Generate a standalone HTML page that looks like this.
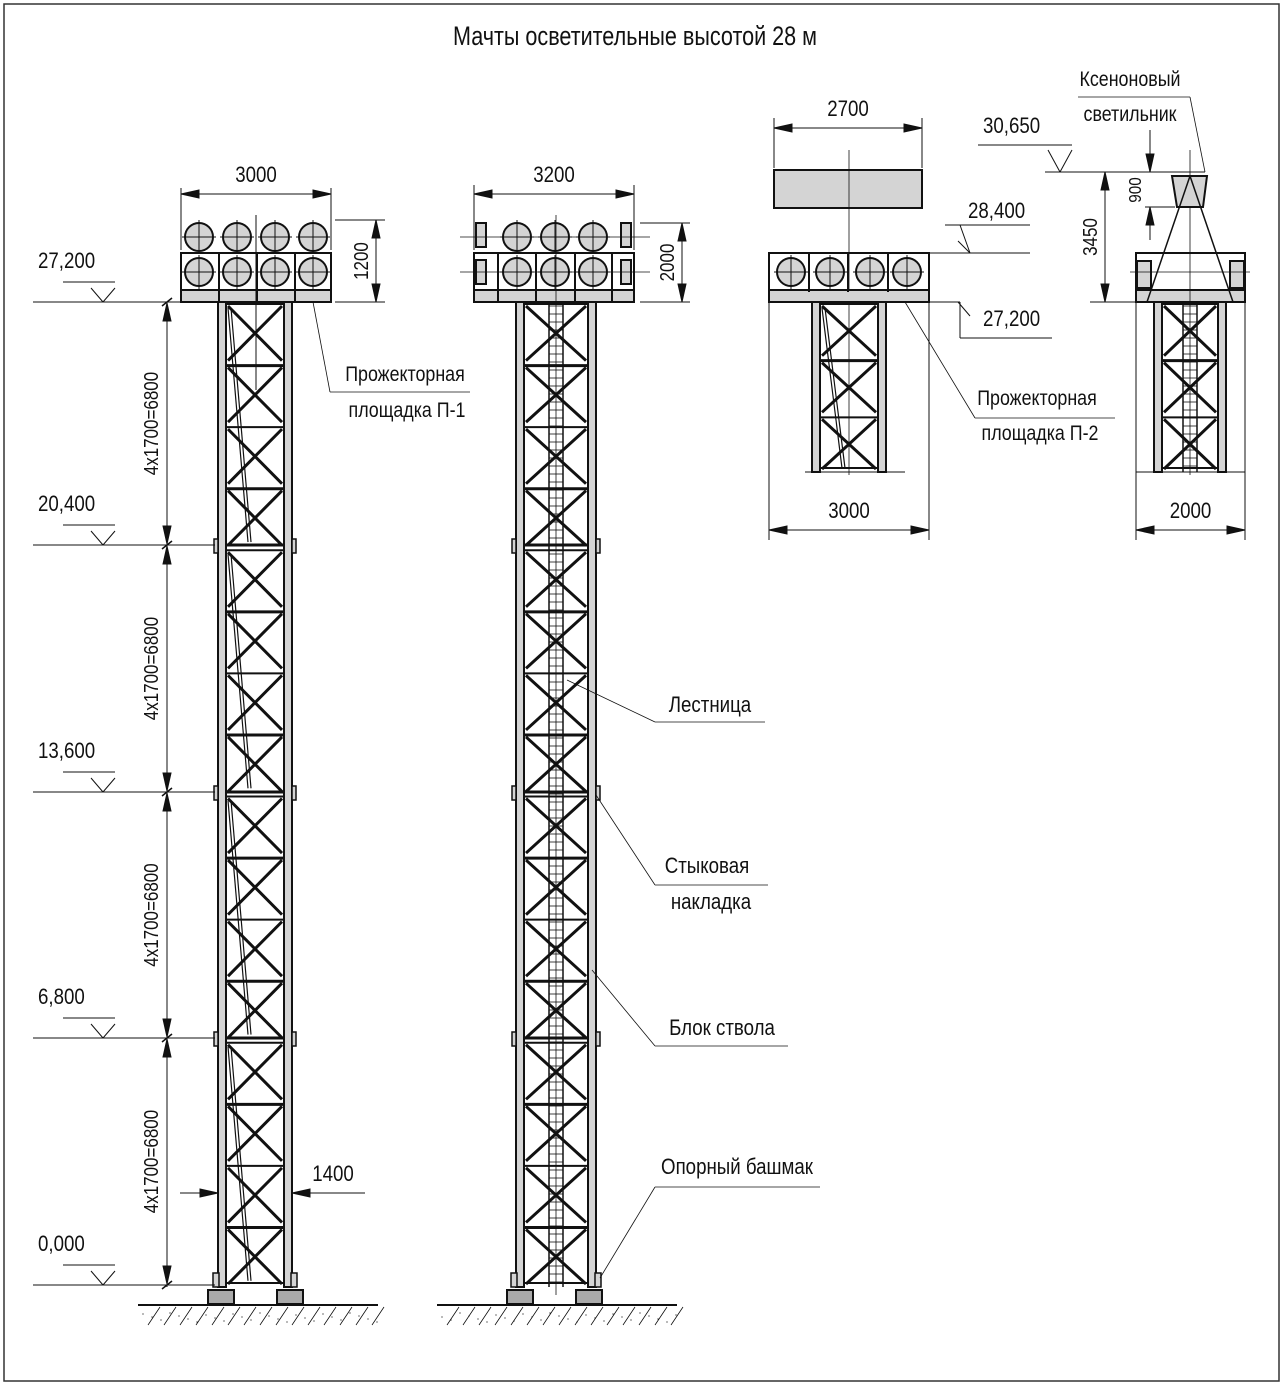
<!DOCTYPE html>
<html><head><meta charset="utf-8"><style>
html,body{margin:0;padding:0;background:#fff}
svg{display:block}
text{font-family:"Liberation Sans","DejaVu Sans",sans-serif;font-size:20px;fill:#111}
</style></head><body>
<svg id="s" width="1283" height="1385" viewBox="0 0 1283 1385" xmlns="http://www.w3.org/2000/svg">
<rect x="4" y="4" width="1275" height="1377" fill="none" stroke="#333" stroke-width="1.5"/>
<text x="635" y="45" text-anchor="middle" style="font-size:27px" transform="translate(635 0) scale(0.8 1) translate(-635 0)">Мачты осветительные высотой 28 м</text>
<g id="g" stroke="#111" fill="none"></g>
</svg>
<script>
(function(){
const g=document.getElementById('g');
function el(t,a,txt){const e=document.createElementNS('http://www.w3.org/2000/svg',t);for(const k in a)e.setAttribute(k,a[k]);if(txt!==undefined)e.textContent=txt;g.appendChild(e);return e;}
function L(x1,y1,x2,y2,w,c){el('line',{x1,y1,x2,y2,'stroke-width':w||1,stroke:c||'#111'});}
function R(x,y,w,h,f,sw){el('rect',{x,y,width:w,height:h,fill:f||'none','stroke-width':sw||2});}
function C(x,y,r){el('circle',{cx:x,cy:y,r:r,fill:'#d4d4d4','stroke-width':2});L(x-r-3,y,x+r+3,y,1);L(x,y-r-3,x,y+r+3,1);}
function T(x,y,s,anchor,size,rot){const a={x,y,'text-anchor':anchor||'start',stroke:'none'};if(size)a.style='font-size:'+size+'px';let tr='translate('+x+' 0) scale(0.85 1) translate('+(-x)+' 0)';if(rot)tr='rotate(-90 '+x+' '+y+') '+tr;a.transform=tr;el('text',a,s);}
function arrow(x,y,dir){let p;if(dir=='r')p=[x,y,x-18,y-4,x-18,y+4];if(dir=='l')p=[x,y,x+18,y-4,x+18,y+4];if(dir=='d')p=[x,y,x-4,y-18,x+4,y-18];if(dir=='u')p=[x,y,x-4,y+18,x+4,y+18];
 el('polygon',{points:p.join(' '),fill:'#111','stroke-width':1});}
function dimH(x1,x2,y,label){L(x1,y,x2,y,1);arrow(x1,y,'l');arrow(x2,y,'r');T((x1+x2)/2,y-12,label,'middle',22);}
function dimV(x,y1,y2,label){L(x,y1,x,y2,1);arrow(x,y1,'u');arrow(x,y2,'d');T(x-8,(y1+y2)/2,label,'middle',20,true);}
function level(x1,x2,y,label){L(x1,y,x2,y,1);L(x1+70,y,x1+58,y-14,1);L(x1+70,y,x1+82,y-14,1);L(x1+30,y-20,x1+82,y-20,1);T(x1+5,y-34,label,'start',22);}
function truss(xl,xr,tp,bot,n,ladder,splices,diagSide){
 const lw=8;const ph=(bot-tp)/n;
 R(xl,tp,lw,bot-tp,'#d4d4d4',2);R(xr-lw,tp,lw,bot-tp,'#d4d4d4',2);
 const a=xl+lw,b=xr-lw;
 if(ladder){const c=(xl+xr)/2;L(c-7,tp,c-7,bot,1.5);L(c+7,tp,c+7,bot,1.5);
  for(let y=tp+4;y<bot;y+=8)L(c-7,y,c+7,y,0.8);}
 for(let i=0;i<n;i++){const y1=tp+i*ph,y2=y1+ph;
  L(a,y1+2,b,y1+2,i%2?3:2);L(a+2,y1+4,b-2,y2-3,3);L(b-2,y1+4,a+2,y2-3,3);
  if(diagSide&&i%4==0){const ye=Math.min(y1+ph*3.9,bot-4);L(a+2,y1+6,a+22,ye,1.2);L(a+5,y1+6,a+25,ye,1.2);}
 }
 L(a,bot-4,b,bot-4,2);
 (splices||[]).forEach(y=>{R(xl-4,y-6,4,14,'#d4d4d4',1.5);R(xr,y-6,4,14,'#d4d4d4',1.5);L(a,y,b,y,3);});
}
function ground(x1,x2,y,f1,f2){R(f1,y-15,26,14,'#aaa',2);R(f2,y-15,26,14,'#aaa',2);
 L(x1,y,x2,y,2);for(let x=x1+10;x<x2;x+=16)L(x,y+20,x+12,y+2,0.8);
 for(let x=x1+5;x<x2;x+=9){el('circle',{cx:x,cy:y+8+(x*7)%10,r:0.6,fill:'#111','stroke-width':0});}}
const TOPY=302,BOT=1287;
truss(218,292,TOPY,BOT,16,false,[545,792,1038],true);
R(213,1273,6,14,'#d4d4d4',1.5);R(291,1273,6,14,'#d4d4d4',1.5);
ground(138,378,1305,208,277);
R(181,253,150,49,'none',2);R(181,290,150,12,'#d4d4d4',2);
[219,257,295].forEach(x=>L(x,253,x,302,2));
[199,237,275,313].forEach(x=>{C(x,237,14);C(x,272,14);});
L(256,215,256,390,1);
L(181,188,181,250,1);L(331,188,331,250,1);dimH(181,331,194,'3000');
L(335,220,385,220,1);L(335,302,385,302,1);dimV(376,220,302,'1200');
level(33,215,302,'27,200');level(33,215,545,'20,400');level(33,215,792,'13,600');level(33,215,1038,'6,800');level(33,215,1285,'0,000');
L(167,302,167,1287,1);[302,545,792,1038,1285].forEach(y=>{L(162,y+4,172,y-4,1.5)});
[[302,545],[545,792],[792,1038],[1038,1285]].forEach(p=>{arrow(167,p[0]+1,'u');arrow(167,p[1]-1,'d');T(158,(p[0]+p[1])/2,'4x1700=6800','middle',20,true);});
L(180,1193,218,1193,1);arrow(218,1193,'r');L(292,1193,365,1193,1);arrow(292,1193,'l');T(333,1181,'1400','middle',22);
L(313,302,330,392,0.8);L(330,392,470,392,0.8);T(405,381,'Прожекторная','middle',21);T(407,417,'площадка П-1','middle',21);
truss(516,596,TOPY,BOT,16,true,[545,792,1038],false);
R(511,1273,6,14,'#d4d4d4',1.5);R(595,1273,6,14,'#d4d4d4',1.5);
ground(437,677,1305,507,576);
R(474,253,160,49,'none',2);R(474,290,160,12,'#d4d4d4',2);
[498,536,575,612].forEach(x=>L(x,253,x,302,2));
R(476,223,10,24,'#d4d4d4',2);R(621,223,10,24,'#d4d4d4',2);R(476,260,10,24,'#d4d4d4',2);R(621,260,10,24,'#d4d4d4',2);
[517,555,593].forEach(x=>{C(x,237,14);C(x,272,14);});
L(460,237,650,237,0.8);L(460,272,650,272,0.8);L(556,215,556,1295,0.8);
L(474,185,474,250,1);L(634,185,634,250,1);dimH(474,634,194,'3200');
L(640,223,690,223,1);L(640,302,690,302,1);dimV(682,223,302,'2000');
L(567,680,655,722,0.8);L(655,722,765,722,0.8);T(710,712,'Лестница','middle',22);
L(596,795,655,885,0.8);L(655,885,768,885,0.8);T(707,873,'Стыковая','middle',22);T(711,909,'накладка','middle',22);
L(592,970,655,1046,0.8);L(655,1046,788,1046,0.8);T(722,1035,'Блок ствола','middle',22);
L(600,1278,655,1187,0.8);L(655,1187,820,1187,0.8);T(737,1174,'Опорный башмак','middle',22);
R(774,170,148,38,'#d4d4d4',2);L(849,150,849,475,0.8);
L(774,118,774,168,1);L(922,118,922,168,1);dimH(774,922,128,'2700');
R(769,253,160,49,'none',2);R(769,290,160,12,'#d4d4d4',2);
[809,848,888].forEach(x=>L(x,253,x,292,2));
[791,830,870,907].forEach(x=>C(x,272,14));
truss(812,886,302,472,3,false,[],true);L(805,472,905,472,1);
L(769,302,769,540,1);L(929,302,929,540,1);dimH(769,929,530,'3000');
L(930,253,1030,253,1);L(970,253,958,241,1);L(970,253,960,225,1);L(945,225,1030,225,1);T(968,218,'28,400','start',22);
L(930,302,960,302,1);L(958,302,970,316,1);L(960,302,960,338,1);L(960,338,1052,338,1);T(983,326,'27,200','start',22);
L(905,302,975,418,0.8);L(975,418,1115,418,0.8);T(1037,405,'Прожекторная','middle',21);T(1040,440,'площадка П-2','middle',21);
R(1136,253,109,49,'none',2);R(1136,290,109,12,'#d4d4d4',2);
R(1137,261,14,27,'#d4d4d4',2);R(1230,261,14,27,'#d4d4d4',2);
L(1130,272,1250,272,0.8);L(1190,150,1190,475,0.8);
truss(1154,1226,302,472,3,true,[],false);L(1136,472,1245,472,1);
el('polygon',{points:'1172,176 1207,176 1203,207 1177,207',fill:'#d4d4d4','stroke-width':2});
L(1190,176,1147,302,1.5);L(1190,176,1233,302,1.5);
L(1136,302,1136,540,1);L(1245,302,1245,540,1);dimH(1136,1245,530,'2000');
L(1045,172,1205,172,1);L(1060,172,1048,150,1);L(1060,172,1072,150,1);L(978,145,1072,145,1);T(983,133,'30,650','start',22);
L(1090,302,1136,302,1);dimV(1105,172,302,'3450');
L(1145,207,1175,207,1);L(1150,130,1150,172,1);arrow(1150,172,'d');L(1150,207,1150,240,1);arrow(1150,207,'u');T(1141,190,'900','middle',18,true);
L(1078,97,1190,97,0.8);L(1190,97,1205,172,0.8);T(1130,86,'Ксеноновый','middle',21);T(1130,121,'светильник','middle',21);
})();
</script>
</body></html>
